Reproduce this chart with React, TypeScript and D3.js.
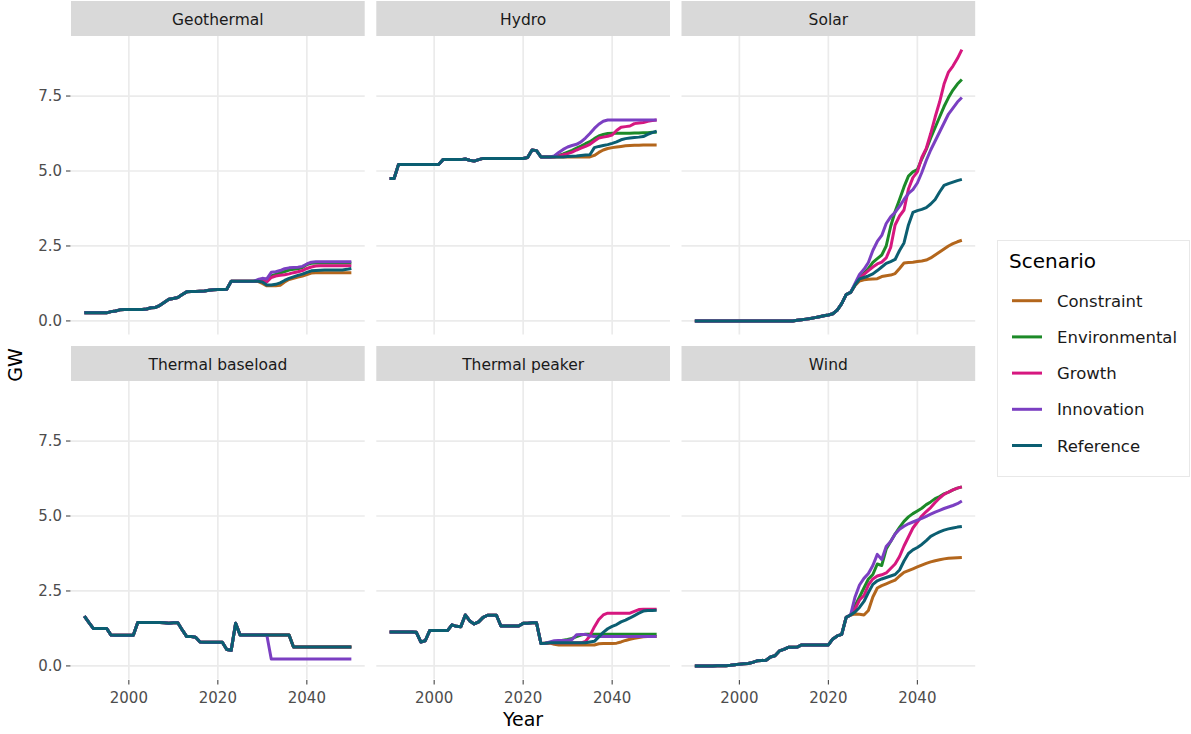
import React from 'react';
import * as d3 from 'd3';

// scenario + technology names
const scenarios = ['Constraint', 'Environmental', 'Growth', 'Innovation', 'Reference'];
const scenarioColors = ['#b3661c', '#1c8a28', '#d6177f', '#7b3fc2', '#0b5e71'];
const techs = ['Geothermal', 'Hydro', 'Solar', 'Thermal baseload', 'Thermal peaker', 'Wind'];

const yTicks = [0, 2.5, 5, 7.5];
const xTicks = [2000, 2020, 2040];

// Geothermal: shared history 1990-2028, scenarios 2029-2050
const geoHist = [0.27, 0.27, 0.27, 0.27, 0.27, 0.27, 0.31, 0.33, 0.37, 0.38,
  0.38, 0.38, 0.38, 0.38, 0.4, 0.44, 0.45, 0.52, 0.62, 0.72,
  0.75, 0.78, 0.88, 0.97, 0.98, 0.98, 0.99, 1.0, 1.02, 1.04,
  1.05, 1.05, 1.06, 1.32, 1.32, 1.32, 1.32, 1.32, 1.32];
const geoCon = [1.32, 1.25, 1.17, 1.17, 1.17, 1.19, 1.3, 1.38, 1.42, 1.46, 1.5, 1.55, 1.6,
  1.61, 1.61, 1.61, 1.61, 1.61, 1.61, 1.61, 1.61, 1.61];
const geoEnv = [1.34, 1.36, 1.4, 1.5, 1.55, 1.6, 1.65, 1.7, 1.72, 1.74, 1.78, 1.88, 1.92,
  1.93, 1.93, 1.93, 1.93, 1.93, 1.93, 1.93, 1.93, 1.93];
const geoGro = [1.32, 1.32, 1.3, 1.45, 1.5, 1.52, 1.54, 1.57, 1.61, 1.64, 1.68, 1.75, 1.8, 1.83,
  1.84, 1.84, 1.84, 1.84, 1.84, 1.84, 1.84, 1.84];
const geoInn = [1.38, 1.42, 1.4, 1.62, 1.64, 1.68, 1.74, 1.77, 1.78, 1.79, 1.82, 1.9, 1.96,
  1.97, 1.97, 1.97, 1.97, 1.97, 1.97, 1.97, 1.97, 1.97];
const geoRef = [1.32, 1.3, 1.2, 1.2, 1.22, 1.27, 1.35, 1.42, 1.47, 1.52, 1.56, 1.62, 1.67,
  1.68, 1.69, 1.7, 1.7, 1.7, 1.7, 1.7, 1.72, 1.75];

// Hydro: history 1990-2026, scenarios 2027-2050
const hydroHist = [4.75, 4.75, 5.22, 5.22, 5.22, 5.22, 5.22, 5.22, 5.22, 5.22,
  5.22, 5.22, 5.38, 5.38, 5.38, 5.38, 5.38, 5.4, 5.36, 5.33,
  5.38, 5.42, 5.42, 5.42, 5.42, 5.42, 5.42, 5.42, 5.42, 5.42,
  5.42, 5.45, 5.7, 5.68, 5.47, 5.47, 5.47];
const hydroCon = [5.47, 5.47, 5.47, 5.47, 5.47, 5.47, 5.47, 5.47, 5.47, 5.52, 5.62, 5.7,
  5.75, 5.78, 5.8, 5.82, 5.84, 5.85, 5.86, 5.86, 5.87, 5.87, 5.87, 5.87];
const hydroEnv = [5.48, 5.52, 5.57, 5.63, 5.69, 5.76, 5.83, 5.91, 5.98, 6.08, 6.17, 6.22,
  6.25, 6.26, 6.26, 6.26, 6.26, 6.26, 6.27, 6.27, 6.28, 6.28, 6.29, 6.29];
const hydroGro = [5.47, 5.5, 5.54, 5.58, 5.63, 5.7, 5.76, 5.82, 5.89, 6.0, 6.1, 6.13,
  6.16, 6.2, 6.35, 6.46, 6.48, 6.5, 6.58, 6.6, 6.62, 6.66, 6.68, 6.7];
const hydroInn = [5.5, 5.62, 5.72, 5.8, 5.85, 5.89, 5.97, 6.1, 6.25, 6.42, 6.56, 6.66,
  6.7, 6.7, 6.7, 6.7, 6.7, 6.7, 6.7, 6.7, 6.7, 6.7, 6.7, 6.7];
const hydroRef = [5.47, 5.47, 5.47, 5.48, 5.49, 5.5, 5.52, 5.53, 5.54, 5.78, 5.82, 5.85,
  5.88, 5.92, 5.97, 6.04, 6.08, 6.1, 6.12, 6.13, 6.15, 6.22, 6.28, 6.33];

// Solar: history 1990-2025, scenarios 2026-2050
const solarHist = [0, 0, 0, 0, 0, 0, 0, 0, 0, 0,
  0, 0, 0, 0, 0, 0, 0, 0, 0, 0,
  0, 0, 0, 0.02, 0.04, 0.06, 0.08, 0.11, 0.14, 0.17,
  0.2, 0.24, 0.36, 0.58, 0.88, 0.95];
const solarCon = [1.18, 1.33, 1.37, 1.39, 1.4, 1.41, 1.48, 1.51, 1.53, 1.58, 1.75, 1.93, 1.95,
  1.96, 1.98, 2.0, 2.03, 2.1, 2.2, 2.3, 2.4, 2.5, 2.58, 2.64, 2.69];
const solarEnv = [1.2, 1.42, 1.58, 1.75, 1.95, 2.08, 2.2, 2.5, 3.15, 3.65, 4.05, 4.47, 4.83,
  4.97, 5.05, 5.4, 5.72, 6.1, 6.45, 6.8, 7.15, 7.45, 7.7, 7.9, 8.05];
const solarGro = [1.2, 1.42, 1.55, 1.68, 1.8, 1.9, 1.96, 2.1, 2.45, 3.2, 3.5, 3.7, 4.4,
  4.78, 4.97, 5.45, 5.75, 6.25, 6.8, 7.3, 7.9, 8.3, 8.5, 8.75, 9.05];
const solarInn = [1.25, 1.55, 1.72, 1.95, 2.35, 2.65, 2.85, 3.25, 3.47, 3.62, 3.82, 4.05, 4.25,
  4.38, 4.6, 4.95, 5.35, 5.7, 6.0, 6.3, 6.6, 6.9, 7.1, 7.3, 7.45];
const solarRef = [1.2, 1.4, 1.45, 1.5, 1.57, 1.68, 1.8, 1.92, 1.98, 2.05, 2.35, 2.6, 3.2,
  3.62, 3.68, 3.72, 3.78, 3.9, 4.05, 4.3, 4.52, 4.58, 4.63, 4.68, 4.72];

// Thermal baseload: history 1990-2031, scenarios 2032-2050
const baseHist = [1.66, 1.45, 1.25, 1.25, 1.25, 1.25, 1.03, 1.02, 1.02, 1.02,
  1.02, 1.02, 1.45, 1.45, 1.45, 1.45, 1.45, 1.45, 1.44, 1.42,
  1.44, 1.44, 1.2, 0.98, 0.98, 0.96, 0.8, 0.79, 0.79, 0.79,
  0.79, 0.79, 0.55, 0.52, 1.42, 1.03, 1.03, 1.03, 1.03, 1.03,
  1.03, 1.03];
const baseRef = [1.03, 1.03, 1.03, 1.03, 1.03, 0.63, 0.63, 0.63, 0.63, 0.63,
  0.63, 0.63, 0.63, 0.63, 0.63, 0.63, 0.63, 0.63, 0.63];
const baseCon = baseRef;
const baseEnv = baseRef;
const baseGro = baseRef;
const baseInn = [0.23, 0.23, 0.23, 0.23, 0.23, 0.23, 0.23, 0.23, 0.23, 0.23,
  0.23, 0.23, 0.23, 0.23, 0.23, 0.23, 0.23, 0.23, 0.23];

// Thermal peaker: history 1990-2025, scenarios 2026-2050
const peakHist = [1.13, 1.13, 1.13, 1.13, 1.13, 1.13, 1.12, 0.8, 0.84, 1.18,
  1.18, 1.18, 1.18, 1.18, 1.37, 1.32, 1.31, 1.7, 1.5, 1.4,
  1.47, 1.62, 1.69, 1.69, 1.69, 1.33, 1.33, 1.33, 1.33, 1.33,
  1.42, 1.42, 1.44, 1.44, 0.75, 0.76];
const peakCon = [0.76, 0.72, 0.7, 0.7, 0.7, 0.7, 0.7, 0.7, 0.7, 0.7, 0.7, 0.74, 0.75,
  0.75, 0.75, 0.76, 0.8, 0.85, 0.89, 0.92, 0.95, 0.97, 0.98, 0.98, 0.98];
const peakEnv = [0.78, 0.8, 0.83, 0.86, 0.88, 0.92, 0.98, 1.03, 1.06, 1.06, 1.06, 1.06, 1.06,
  1.06, 1.06, 1.06, 1.06, 1.06, 1.06, 1.06, 1.06, 1.06, 1.06, 1.06, 1.06];
const peakGro = [0.77, 0.77, 0.77, 0.77, 0.77, 0.77, 0.77, 0.77, 0.82, 1.0, 1.3, 1.55, 1.7,
  1.76, 1.76, 1.76, 1.76, 1.76, 1.76, 1.82, 1.88, 1.89, 1.89, 1.89, 1.89];
const peakInn = [0.8, 0.84, 0.85, 0.85, 0.86, 0.88, 1.04, 1.05, 1.05, 1.0, 0.98, 0.98, 0.98,
  0.98, 0.98, 0.98, 0.98, 0.98, 0.98, 0.98, 0.98, 0.98, 0.98, 0.98, 0.98];
const peakRef = [0.77, 0.77, 0.77, 0.77, 0.77, 0.77, 0.77, 0.77, 0.77, 0.8, 0.82, 0.97, 1.12,
  1.24, 1.32, 1.38, 1.47, 1.53, 1.6, 1.68, 1.76, 1.83, 1.85, 1.85, 1.86];

// Wind: history 1990-2025, scenarios 2026-2050
const windHist = [0, 0, 0, 0, 0, 0.01, 0.01, 0.01, 0.02, 0.04,
  0.06, 0.07, 0.08, 0.12, 0.17, 0.18, 0.19, 0.3, 0.34, 0.5,
  0.55, 0.62, 0.62, 0.63, 0.7, 0.7, 0.7, 0.7, 0.7, 0.7,
  0.7, 0.9, 1.0, 1.05, 1.62, 1.7];
const windCon = [1.73, 1.72, 1.7, 1.85, 2.3, 2.6, 2.68, 2.74, 2.8, 2.86, 3.0, 3.12, 3.18,
  3.24, 3.3, 3.36, 3.42, 3.47, 3.51, 3.54, 3.57, 3.59, 3.6, 3.61, 3.62];
const windEnv = [2.0, 2.3, 2.6, 2.9, 3.05, 3.4, 3.35, 3.9, 4.15, 4.4, 4.62, 4.82, 4.97,
  5.08, 5.17, 5.26, 5.38, 5.47, 5.58, 5.65, 5.74, 5.8, 5.87, 5.93, 5.97];
const windGro = [1.9, 2.2, 2.35, 2.7, 2.9, 3.0, 3.04, 3.1, 3.25, 3.4, 3.65, 4.0, 4.3,
  4.6, 4.8, 5.0, 5.15, 5.28, 5.45, 5.6, 5.72, 5.8, 5.87, 5.93, 5.97];
const windInn = [2.3, 2.7, 2.92, 3.08, 3.35, 3.72, 3.55, 3.98, 4.15, 4.4, 4.56, 4.66, 4.74,
  4.8, 4.86, 4.92, 4.99, 5.06, 5.13, 5.19, 5.25, 5.3, 5.35, 5.41, 5.5];
const windRef = [1.8, 1.95, 2.15, 2.45, 2.72, 2.84, 2.9, 2.95, 3.0, 3.05, 3.2, 3.5, 3.75,
  3.87, 3.95, 4.05, 4.18, 4.32, 4.4, 4.47, 4.53, 4.57, 4.6, 4.63, 4.65];

const techData = [
  { hist: geoHist, proj: [geoCon, geoEnv, geoGro, geoInn, geoRef] },
  { hist: hydroHist, proj: [hydroCon, hydroEnv, hydroGro, hydroInn, hydroRef] },
  { hist: solarHist, proj: [solarCon, solarEnv, solarGro, solarInn, solarRef] },
  { hist: baseHist, proj: [baseCon, baseEnv, baseGro, baseInn, baseRef] },
  { hist: peakHist, proj: [peakCon, peakEnv, peakGro, peakInn, peakRef] },
  { hist: windHist, proj: [windCon, windEnv, windGro, windInn, windRef] },
];

const FONT = '"DejaVu Sans", sans-serif';
const W = 1191;
const H = 734;
const colLeft = [71, 376.3, 681.5];
const panelW = 293.7;
const stripTop = [1, 346];
const stripH = 35;
const panelTop = [36, 381];
const panelH = 298.5;

const series = techData.map((t) => t.proj.map((p) => t.hist.concat(p).map((v, i) => ({ year: 1990 + i, value: v }))));

const maxVal = d3.max(series.flat(2), (d) => d.value) || 9;
const yPad = maxVal * 0.05;
const xPad = (2050 - 1990) * 0.05;

export default function App() {
  const xScale = d3.scaleLinear().domain([1990 - xPad, 2050 + xPad]).range([0, panelW]);
  const yScale = d3.scaleLinear().domain([0 - yPad, maxVal + yPad]).range([panelH, 0]);
  const line = d3.line<{ year: number; value: number }>()
    .x((d) => xScale(d.year))
    .y((d) => yScale(d.value));

  return (
    <svg width={W} height={H} style={{ position: 'absolute', left: 0, top: 0, background: '#fff' }} fontFamily={FONT}>
      {techs.map((tech, ti) => {
        const col = ti % 3;
        const row = Math.floor(ti / 3);
        const left = colLeft[col];
        const top = panelTop[row];
        return (
          <g key={tech}>
            <rect x={left} y={stripTop[row]} width={panelW} height={stripH} fill="#d9d9d9" />
            <text x={left + panelW / 2} y={stripTop[row] + 24} textAnchor="middle" fontSize={15.5} fill="#1a1a1a">{tech}</text>
            <g transform={`translate(${left},${top})`}>
              {yTicks.map((t) => (
                <line key={`y${t}`} x1={0} x2={panelW} y1={yScale(t)} y2={yScale(t)} stroke="#ebebeb" strokeWidth={1.7} />
              ))}
              {xTicks.map((t) => (
                <line key={`x${t}`} x1={xScale(t)} x2={xScale(t)} y1={0} y2={panelH} stroke="#ebebeb" strokeWidth={1.7} />
              ))}
              {series[ti].map((s, si) => (
                <path key={scenarios[si]} d={line(s) || ''} fill="none" stroke={scenarioColors[si]} strokeWidth={3} strokeLinejoin="round" />
              ))}
              {col === 0 && yTicks.map((t) => (
                <g key={`yl${t}`}>
                  <line x1={-5} x2={-0.5} y1={yScale(t)} y2={yScale(t)} stroke="#333" strokeWidth={1} />
                  <text x={-9} y={yScale(t) + 5} textAnchor="end" fontSize={15} fill="#4d4d4d">{t.toFixed(1)}</text>
                </g>
              ))}
              {row === 1 && xTicks.map((t) => (
                <g key={`xl${t}`}>
                  <line x1={xScale(t)} x2={xScale(t)} y1={panelH + 0.5} y2={panelH + 5} stroke="#333" strokeWidth={1} />
                  <text x={xScale(t)} y={panelH + 23} textAnchor="middle" fontSize={15} fill="#4d4d4d">{t}</text>
                </g>
              ))}
            </g>
          </g>
        );
      })}

      <text x={523} y={726} textAnchor="middle" fontSize={19} fill="#000">Year</text>
      <text transform="translate(22,365) rotate(-90)" textAnchor="middle" fontSize={19} fill="#000">GW</text>

      <g>
        <rect x={997.5} y={240.5} width={192} height={236} fill="#fff" stroke="#e8e8e8" strokeWidth={1} />
        <text x={1009} y={268} fontSize={20} fill="#000">Scenario</text>
        {scenarios.map((s, i) => (
          <g key={s} transform={`translate(1012,${300.7 + i * 36.2})`}>
            <line x1={0} x2={30} y1={0} y2={0} stroke={scenarioColors[i]} strokeWidth={3} />
            <text x={45} y={6} fontSize={16.5} fill="#1a1a1a">{s}</text>
          </g>
        ))}
      </g>
    </svg>
  );
}
